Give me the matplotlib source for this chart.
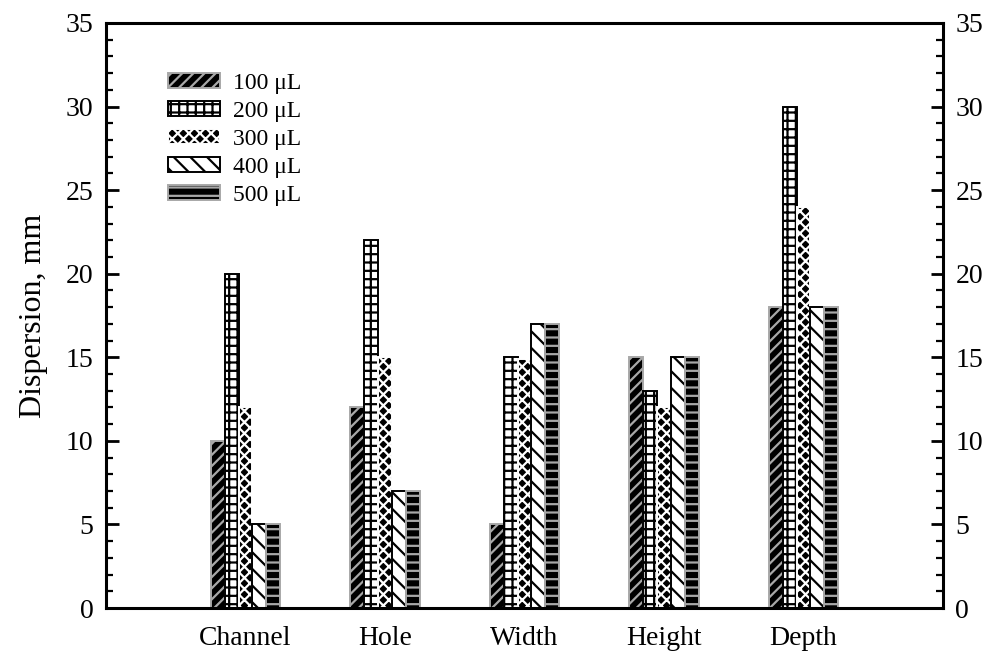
import matplotlib
matplotlib.use('Agg')
import matplotlib.pyplot as plt
import numpy as np
from matplotlib.ticker import MultipleLocator

categories = ['Channel', 'Hole', 'Width', 'Height', 'Depth']
volumes = ['100 \u03bcL', '200 \u03bcL', '300 \u03bcL', '400 \u03bcL', '500 \u03bcL']
v100 = [10, 12, 5, 15, 18]
v200 = [20, 22, 15, 13, 30]
v300 = [12, 15, 14.9, 12, 24]
v400 = [5, 7, 17, 15, 18]
v500 = [5, 7, 17, 15, 18]
series = [v100, v200, v300, v400, v500]

# hatch styles per volume: (face, edge, hatch)
STYLES = [('black', '#a8a8a8', '///'),
          ('white', 'black', '++'),
          ('black', 'white', 'xxx'),
          ('white', 'black', '\\\\'),
          ('black', '#a8a8a8', '--')]

plt.rcParams['font.family'] = ['Liberation Serif', 'DejaVu Serif']
plt.rcParams['hatch.linewidth'] = 1.6

fig = plt.figure(figsize=(9.89, 6.53), dpi=100)
ax = fig.add_axes([106/989, 1-608/653, 837/989, 585/653])

x = np.arange(1, len(categories)+1)
w = 0.1
for i, vals in enumerate(series):
    face, edge, hatch = STYLES[i]
    ax.bar(x + (i-2)*w, vals, width=w, facecolor=face, edgecolor=edge,
           hatch=hatch, linewidth=1.4, label=volumes[i])

ax.set_xlim(0, 6)
ax.set_ylim(0, 35)
ax.set_xticks(x)
ax.set_xticklabels(categories, fontsize=20)
ax.tick_params(axis='x', length=0, pad=13)
ax.yaxis.set_major_locator(MultipleLocator(5))
ax.yaxis.set_minor_locator(MultipleLocator(1))
ax.tick_params(axis='y', which='major', direction='in', length=9, width=2,
               labelsize=20, pad=9, right=True, labelright=True)
ax.tick_params(axis='y', which='minor', direction='in', length=5, width=1.6, right=True)
for s in ax.spines.values():
    s.set_linewidth(2.2)
ax.set_ylabel('Dispersion, mm', fontsize=23, labelpad=13)

ax.legend(loc='upper left', bbox_to_anchor=(0.049, 0.951), frameon=False, fontsize=17,
          handlelength=2.2, handleheight=0.6, labelspacing=0.3, handletextpad=0.55)

plt.savefig('out.png', dpi=100)
